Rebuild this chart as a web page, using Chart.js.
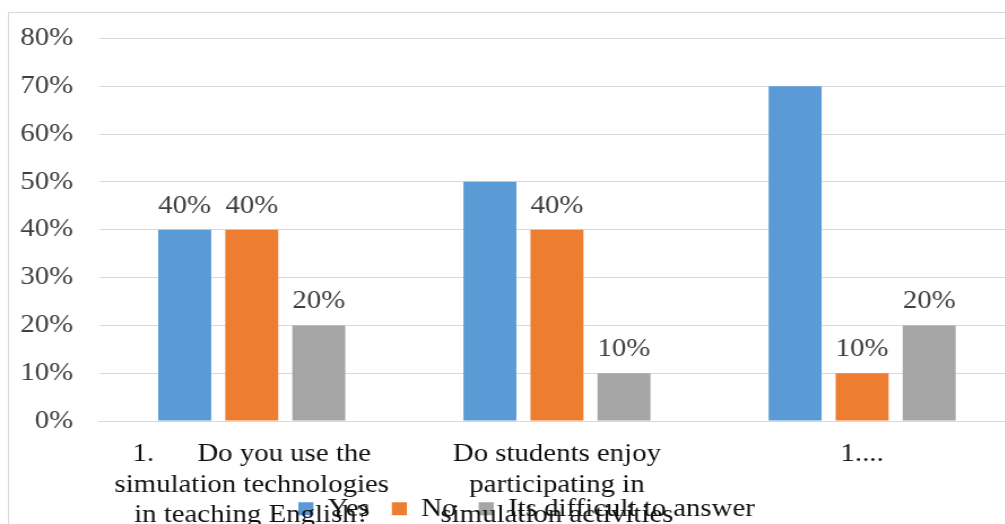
<!DOCTYPE html>
<html>
<head>
<meta charset="utf-8">
<script src="https://cdn.jsdelivr.net/npm/chart.js@4.4.0/dist/chart.umd.min.js"></script>
<style>
  html, body { margin: 0; padding: 0; background: #fff; overflow: hidden; }
  #wrap { position: absolute; left: 0; top: 0; transform: scaleX(1.13); transform-origin: 0 0; }
</style>
</head>
<body>
<div id="wrap"><canvas id="myChart" width="905" height="604"></canvas></div>
<script>
// 横轴分类（多行标签）
var categories = [
    ['1.      Do you use the', 'simulation technologies', 'in teaching English?'],
    ['Do students enjoy', 'participating in', 'simulation activities'],
    ['1....']
];

// 三组数据（百分比）
var seriesNames = ['Yes', 'No', 'Its difficult to answer'];
var yesValues = [40, 50, 70];
var noValues = [40, 40, 10];
var hardValues = [20, 10, 20];

// 哪些柱子上方显示数值
var yesLabelShown = [true, false, false];
var noLabelShown = [true, true, true];
var hardLabelShown = [true, true, true];

// 纵轴刻度
var yTicks = [0, 10, 20, 30, 40, 50, 60, 70, 80];

var FONT = '"Liberation Serif", "Times New Roman", serif';
var FONT_SIZE = 25.5;

Chart.defaults.font.family = FONT;
Chart.defaults.font.size = FONT_SIZE;

// 外框
var frame = {
    id: 'frame',
    beforeDraw: function(chart) {
        var ctx = chart.ctx;
        ctx.save();
        ctx.strokeStyle = '#d9d9d9';
        ctx.lineWidth = 1;
        ctx.strokeRect(7.5, 12.5, chart.width + 20, chart.height + 20);
        ctx.restore();
    }
};

// 图例压到横轴标签上
var legendShift = {
    id: 'legendShift',
    afterLayout: function(chart) {
        var lg = chart.legend;
        var dy = (lg.top + lg.bottom) / 2 - 504;
        lg.top -= dy;
        lg.bottom -= dy;
        lg.left += 8;
        lg.right += 8;
    }
};

// 柱顶数值
var valueLabels = {
    id: 'valueLabels',
    afterDatasetsDraw: function(chart) {
        var ctx = chart.ctx;
        ctx.save();
        ctx.font = FONT_SIZE + 'px ' + FONT;
        ctx.fillStyle = '#404040';
        ctx.textAlign = 'center';
        ctx.textBaseline = 'alphabetic';
        chart.data.datasets.forEach(function(ds, i) {
            chart.getDatasetMeta(i).data.forEach(function(bar, j) {
                if (!ds.labelShown[j]) return;
                ctx.fillText(ds.data[j] + '%', bar.x, bar.y - 17);
            });
        });
        ctx.restore();
    }
};

var barChartData = {
    labels: categories,
    datasets: [{
        label: seriesNames[0],
        backgroundColor: '#5b9bd5',
        data: yesValues,
        labelShown: yesLabelShown
    }, {
        label: seriesNames[1],
        backgroundColor: '#ed7d31',
        data: noValues,
        labelShown: noLabelShown
    }, {
        label: seriesNames[2],
        backgroundColor: '#a5a5a5',
        data: hardValues,
        labelShown: hardLabelShown
    }]
};

var ctx = document.getElementById('myChart').getContext('2d');
window.myBar = new Chart(ctx, {
    type: 'bar',
    data: barChartData,
    plugins: [frame, legendShift, valueLabels],
    options: {
        responsive: false,
        animation: false,
        layout: {
            padding: { left: 18, top: 37.7, right: 7, bottom: 0 }
        },
        datasets: {
            bar: {
                categoryPercentage: 0.659,
                barPercentage: 0.79,
                borderWidth: 0
            }
        },
        scales: {
            x: {
                grid: { display: false, drawTicks: false },
                border: { display: true, color: '#d9d9d9', width: 1 },
                ticks: {
                    color: '#111',
                    padding: 18,
                    maxRotation: 0,
                    autoSkip: false
                },
                // 长标签不挤压左侧纵轴
                afterFit: function(scale) {
                    scale.paddingLeft = 0;
                    scale.paddingRight = 0;
                }
            },
            y: {
                min: 0,
                max: 80,
                afterBuildTicks: function(scale) {
                    scale.ticks = yTicks.map(function(v) { return { value: v }; });
                },
                // 只留一份标签间距
                afterFit: function(scale) {
                    scale.width -= scale.options.ticks.padding;
                },
                grid: { color: '#d9d9d9', lineWidth: 1, drawTicks: false },
                border: { display: false },
                ticks: {
                    color: '#404040',
                    padding: 23,
                    callback: function(v) { return v + '%'; }
                }
            }
        },
        plugins: {
            legend: {
                position: 'bottom',
                labels: {
                    color: '#111',
                    boxWidth: 13.3,
                    boxHeight: 13,
                    padding: 19.6
                }
            },
            tooltip: { enabled: false }
        }
    }
});
</script>
</body>
</html>
